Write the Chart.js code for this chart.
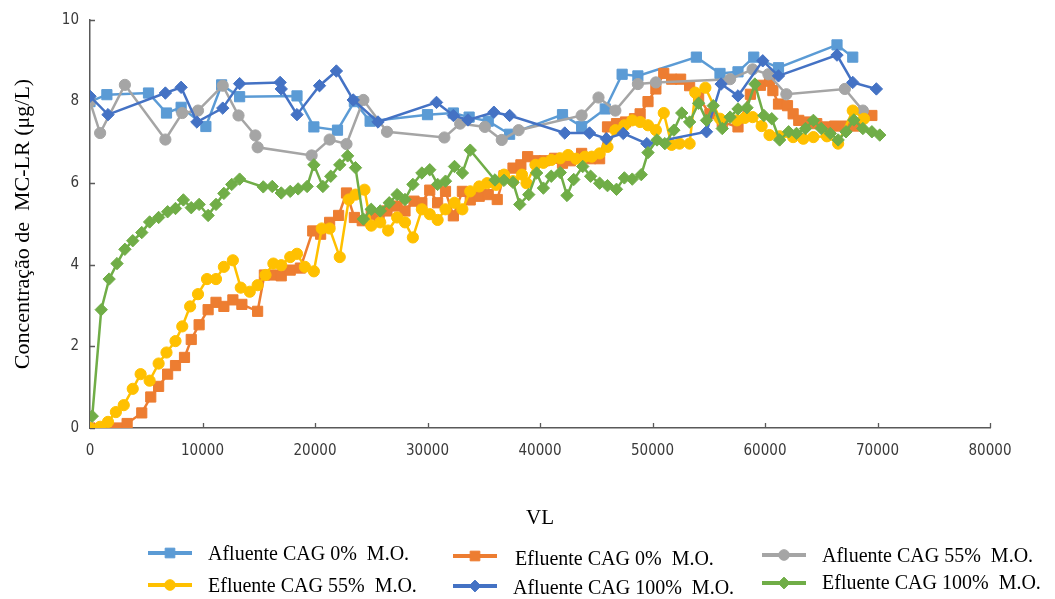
<!DOCTYPE html>
<html>
<head>
<meta charset="utf-8">
<script src="https://cdn.jsdelivr.net/npm/chart.js@4.4.0/dist/chart.umd.min.js"></script>
<style>
  html, body { margin: 0; padding: 0; background: #ffffff; }
  #wrap { position: relative; width: 1055px; height: 599px; }
</style>
</head>
<body>
<div id="wrap"><canvas id="chart" width="1055" height="599"></canvas></div>
<script>
// Axis ticks
const vlTicks = [0, 10000, 20000, 30000, 40000, 50000, 60000, 70000, 80000];
const concTicks = [0, 2, 4, 6, 8, 10];

// Series names
const seriesNames = [
  'Afluente CAG 0%  M.O.',
  'Efluente CAG 0%  M.O.',
  'Afluente CAG 55%  M.O.',
  'Efluente CAG 55%  M.O.',
  'Afluente CAG 100%  M.O.',
  'Efluente CAG 100%  M.O.'
];

// Afluente CAG 0% M.O.
const vlAfl0 = [0,1500,5200,6800,8100,10300,11700,13300,18400,19900,22000,23500,24900,30000,32300,33700,35400,37300,42000,43700,45800,47300,48700,53900,56000,57600,59000,61200,66400,67800];
const mcAfl0 = [8.0,8.17,8.21,7.72,7.86,7.39,8.41,8.12,8.14,7.38,7.30,8.0,7.52,7.68,7.72,7.62,7.52,7.2,7.68,7.39,7.82,8.67,8.63,9.09,8.69,8.73,9.09,8.83,9.39,9.09];

// Efluente CAG 0% M.O.
const vlEfl0 = [0,1200,2400,3300,4600,5400,6100,6900,7600,8400,9000,9700,10500,11200,11900,12700,13500,14900,15500,16300,17000,17800,18700,19800,20500,21300,22100,22800,23500,24200,25000,25700,26400,27300,28000,28800,29500,30200,30900,31600,32300,33100,33800,34600,35400,36200,36800,37600,38300,38900,39600,40400,41300,42000,42700,43700,44500,45300,46000,46800,47600,48400,48900,49600,50300,51000,51700,52500,53300,54100,55100,56200,57600,58700,59600,60400,60700,61200,62000,62500,63000,63700,64600,65500,66200,67100,68000,69500];
const mcEfl0 = [0,0,0,0.11,0.37,0.76,1.02,1.32,1.53,1.73,2.17,2.53,2.9,3.08,2.98,3.14,3.03,2.86,3.75,3.75,3.73,3.87,3.92,4.83,4.75,5.04,5.21,5.76,5.16,5.08,5.24,5.16,5.32,5.44,5.32,5.56,5.52,5.83,5.52,5.8,5.2,5.8,5.59,5.68,5.72,5.6,6.18,6.37,6.45,6.65,6.55,6.55,6.61,6.49,6.55,6.73,6.6,6.6,7.38,7.46,7.5,7.58,7.7,8.0,8.31,8.69,8.55,8.55,8.39,8.1,7.7,7.5,7.38,8.18,8.4,8.5,8.27,7.94,7.9,7.7,7.54,7.5,7.46,7.38,7.4,7.4,7.4,7.66];

// Afluente CAG 55% M.O.
const vlAfl55 = [0,900,3100,6700,8200,9600,11800,13200,14700,14900,19700,21300,22800,24300,26400,31500,32900,35100,36600,38100,43700,45200,46700,48700,50300,56900,58900,60300,61900,67100,68700];
const mcAfl55 = [8.0,7.23,8.41,7.07,7.72,7.78,8.39,7.66,7.17,6.88,6.68,7.07,6.96,8.04,7.26,7.12,7.46,7.38,7.06,7.30,7.66,8.1,7.78,8.43,8.47,8.55,8.79,8.67,8.18,8.31,7.78];

// Efluente CAG 55% M.O.
const vlEfl55 = [0,900,1600,2300,3000,3800,4500,5300,6100,6800,7600,8200,8900,9600,10400,11200,11900,12700,13400,14200,14900,15600,16300,17000,17800,18400,19100,19900,20600,21300,22200,23000,23600,24400,25000,25800,26500,27300,28000,28700,29500,30200,30900,31600,32400,33100,33800,34600,35300,36100,36800,37600,38400,38800,39600,40300,41000,41800,42500,43200,44000,44600,45300,46000,46700,47500,48200,48900,49600,50300,51000,51700,52400,53300,53800,54700,56000,57500,58200,58900,59700,60400,61300,62500,63400,64300,65500,66500,67800,68800];
const mcEfl55 = [0,0.03,0.15,0.39,0.56,0.96,1.32,1.16,1.58,1.85,2.13,2.49,2.98,3.28,3.65,3.65,3.95,4.11,3.44,3.34,3.5,3.75,4.03,3.99,4.19,4.27,3.95,3.84,4.89,4.89,4.19,5.6,5.72,5.84,4.96,5.04,4.84,5.16,5.04,4.67,5.36,5.24,5.1,5.36,5.52,5.36,5.8,5.92,6.0,5.96,6.21,6.05,6.21,6.0,6.45,6.5,6.57,6.61,6.69,6.6,6.65,6.65,6.73,6.89,7.3,7.42,7.54,7.5,7.42,7.3,7.72,6.94,6.97,6.97,8.22,8.34,7.58,7.54,7.6,7.62,7.4,7.18,7.15,7.13,7.09,7.13,7.15,6.97,7.78,7.58];

// Afluente CAG 100% M.O.
const vlAfl100 = [0,1600,6700,8100,9500,11800,13300,16900,17000,18400,20400,21900,23400,25600,30800,32300,33600,35900,37300,42200,44400,45900,47400,49500,54800,56100,57600,59800,61200,66400,67800,69900];
const mcAfl100 = [8.13,7.68,8.21,8.35,7.5,7.84,8.44,8.47,8.31,7.68,8.39,8.75,8.04,7.5,7.98,7.66,7.55,7.74,7.66,7.23,7.23,7.09,7.22,6.97,7.26,8.43,8.14,9.0,8.63,9.14,8.47,8.31];

// Efluente CAG 100% M.O.
const vlEfl100 = [200,1000,1700,2400,3100,3800,4600,5300,6100,6900,7600,8300,9000,9700,10500,11200,11900,12600,13300,15400,16200,17000,17800,18500,19300,19900,20700,21400,22200,22900,23600,24300,25000,25800,26600,27300,28000,28700,29500,30200,30900,31600,32400,33100,33800,36000,36800,37600,38200,39000,39700,40300,41000,41800,42400,43000,43800,44500,45300,46000,46800,47500,48200,49000,49600,50400,51100,51900,52600,53300,54100,54800,55400,56200,56900,57600,58400,59100,59900,60600,61300,62100,62800,63600,64300,65000,65800,66500,67200,67900,68700,69500,70200];
const mcEfl100 = [0.29,2.9,3.65,4.03,4.38,4.59,4.79,5.05,5.16,5.3,5.38,5.59,5.4,5.48,5.21,5.48,5.75,5.97,6.1,5.91,5.92,5.76,5.8,5.86,5.92,6.45,5.92,6.17,6.45,6.67,6.38,5.12,5.36,5.32,5.52,5.72,5.6,5.97,6.25,6.33,5.97,6.05,6.41,6.25,6.81,6.08,6.07,6.02,5.48,5.72,6.25,5.88,6.17,6.26,5.7,6.09,6.41,6.17,6.0,5.94,5.85,6.13,6.1,6.21,6.75,7.06,6.97,7.3,7.72,7.5,7.96,7.54,7.9,7.34,7.62,7.82,7.85,8.43,7.66,7.58,7.06,7.26,7.22,7.34,7.54,7.34,7.22,7.06,7.26,7.55,7.34,7.26,7.18];

const seriesVL = [vlAfl0, vlEfl0, vlAfl55, vlEfl55, vlAfl100, vlEfl100];
const seriesMC = [mcAfl0, mcEfl0, mcAfl55, mcEfl55, mcAfl100, mcEfl100];
const seriesColors = ['#5B9BD5', '#ED7D31', '#A5A5A5', '#FFC000', '#4472C4', '#70AD47'];
const seriesMarkers = ['rect', 'rect', 'circle', 'circle', 'rectRot', 'rectRot'];
const markerRadius = { rect: 7.2, circle: 5.6, rectRot: 6.2 };

const SERIF = '"Liberation Serif", "Times New Roman", serif';
const NARROW = '"Liberation Sans Narrow", "Arial Narrow", "DejaVu Sans Condensed", sans-serif';
const AXIS_COLOR = '#595959';

function toPoints(xs, ys) {
  return xs.map((x, i) => ({ x: x, y: ys[i] }));
}

const datasets = seriesNames.map((name, i) => ({
  label: name,
  data: toPoints(seriesVL[i], seriesMC[i]),
  borderColor: seriesColors[i],
  backgroundColor: seriesColors[i],
  borderWidth: 2.5,
  pointStyle: seriesMarkers[i],
  pointRadius: markerRadius[seriesMarkers[i]],
  pointBorderWidth: 1,
  pointBorderColor: seriesColors[i],
  pointBackgroundColor: seriesColors[i],
  tension: 0,
  fill: false,
  order: seriesNames.length - i
}));

// Small marker painter shared by the legend
function paintMarker(ctx, style, x, y, r, color) {
  ctx.save();
  ctx.fillStyle = color;
  ctx.strokeStyle = color;
  ctx.lineWidth = 1;
  ctx.beginPath();
  if (style === 'rect') {
    const s = Math.SQRT1_2 * r;
    ctx.rect(x - s, y - s, 2 * s, 2 * s);
  } else if (style === 'circle') {
    ctx.arc(x, y, r, 0, Math.PI * 2);
  } else {
    ctx.moveTo(x - r, y);
    ctx.lineTo(x, y - r);
    ctx.lineTo(x + r, y);
    ctx.lineTo(x, y + r);
    ctx.closePath();
  }
  ctx.fill();
  ctx.stroke();
  ctx.restore();
}

// Tick marks pointing into the plot area
const innerTicks = {
  id: 'innerTicks',
  beforeDatasetsDraw(chart) {
    const { ctx, scales: { x, y } } = chart;
    ctx.save();
    ctx.strokeStyle = AXIS_COLOR;
    ctx.lineWidth = 1.3;
    ctx.beginPath();
    vlTicks.forEach(v => {
      const px = Math.round(x.getPixelForValue(v)) + 0.5;
      ctx.moveTo(px, y.bottom);
      ctx.lineTo(px, y.bottom - 5);
    });
    concTicks.forEach(v => {
      const py = Math.round(y.getPixelForValue(v)) + 0.5;
      ctx.moveTo(x.left, py);
      ctx.lineTo(x.left + 5, py);
    });
    ctx.stroke();
    ctx.restore();
  }
};

// Legend laid out in three columns under the axis title
const legendSlots = [
  { mx: 170, my: 553, tx: 208, ty: 555 },
  { mx: 475, my: 556, tx: 515, ty: 560 },
  { mx: 784, my: 555, tx: 822, ty: 557 },
  { mx: 170, my: 585, tx: 208, ty: 587 },
  { mx: 475, my: 586, tx: 513, ty: 589 },
  { mx: 784, my: 583, tx: 822, ty: 584 }
];

const columnLegend = {
  id: 'columnLegend',
  afterDraw(chart) {
    const ctx = chart.ctx;
    ctx.save();
    chart.data.datasets.forEach((ds, i) => {
      const s = legendSlots[i];
      ctx.strokeStyle = ds.borderColor;
      ctx.lineWidth = 4;
      ctx.beginPath();
      ctx.moveTo(s.mx - 22, s.my);
      ctx.lineTo(s.mx + 22, s.my);
      ctx.stroke();
      paintMarker(ctx, ds.pointStyle, s.mx, s.my, ds.pointRadius * 0.95, ds.borderColor);
      ctx.fillStyle = '#000000';
      ctx.font = '20px ' + SERIF;
      ctx.textAlign = 'left';
      ctx.textBaseline = 'middle';
      ctx.fillText(ds.label, s.tx, s.ty);
    });
    ctx.restore();
  }
};

new Chart(document.getElementById('chart'), {
  type: 'line',
  data: { datasets: datasets },
  plugins: [innerTicks, columnLegend],
  options: {
    responsive: false,
    animation: false,
    layout: { padding: { left: 0, top: 15, right: 65, bottom: 0 } },
    plugins: {
      legend: { display: false },
      tooltip: { enabled: false }
    },
    scales: {
      x: {
        type: 'linear',
        min: 0,
        max: 80000,
        afterBuildTicks: s => { s.ticks = vlTicks.map(v => ({ value: v })); },
        afterFit: s => { s.height = 171; },
        grid: { display: false, drawTicks: false },
        border: { display: true, color: AXIS_COLOR, width: 1.5 },
        ticks: {
          padding: 14,
          maxRotation: 0,
          color: '#3a3a3a',
          font: { family: NARROW, size: 15 },
          callback: v => String(v)
        },
        title: {
          display: true,
          text: 'VL',
          color: '#000000',
          font: { family: SERIF, size: 21 },
          padding: { top: 68, bottom: 68 }
        }
      },
      y: {
        type: 'linear',
        min: 0,
        max: 10,
        afterBuildTicks: s => { s.ticks = concTicks.map(v => ({ value: v })); },
        afterFit: s => { s.width = 90; },
        grid: { display: false, drawTicks: false },
        border: { display: true, color: AXIS_COLOR, width: 1.5 },
        ticks: {
          padding: 11,
          color: '#3a3a3a',
          font: { family: NARROW, size: 15 },
          callback: v => String(v)
        },
        title: {
          display: true,
          text: 'Concentração de  MC-LR (μg/L)',
          color: '#000000',
          font: { family: SERIF, size: 22 },
          padding: { top: 10, bottom: 10 }
        }
      }
    }
  }
});
</script>
</body>
</html>
